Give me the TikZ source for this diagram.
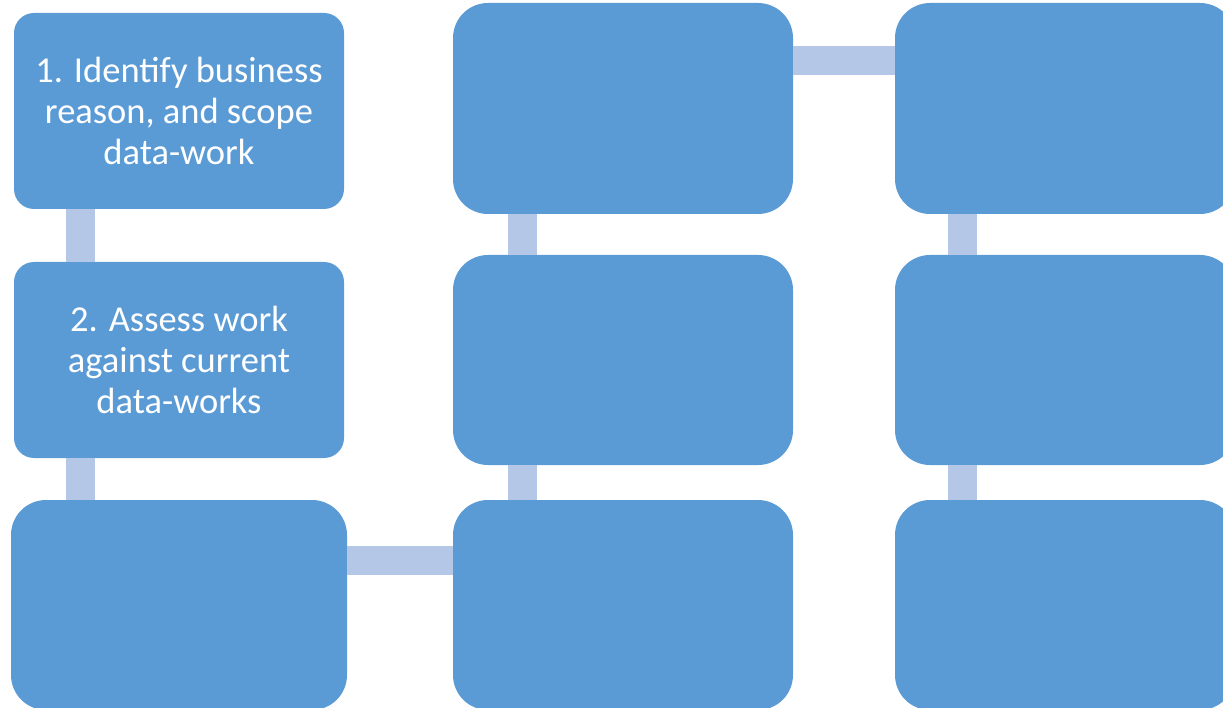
\documentclass[tikz,border=0pt]{standalone}
\usepackage{fontspec}
\setmainfont{Carlito}
\definecolor{boxblue}{HTML}{5B9BD5}
\definecolor{linkblue}{HTML}{B4C7E7}
\begin{document}
\begin{tikzpicture}[x=1pt,y=-1pt,
  stepbox/.style={fill=boxblue, draw=none, inner sep=0pt, text=white, align=center,
    font=\fontsize{36.5}{41}\selectfont},
  smallbox/.style={stepbox, minimum width=330pt, minimum height=196pt, rounded corners=20pt},
  bigbox/.style={stepbox, minimum width=340pt, minimum height=210pt, rounded corners=35pt},
  conn/.style={draw=linkblue, line width=29pt}]
\clip (0,0) rectangle (1223,708);
\path[use as bounding box] (0,0) rectangle (1223,708);
% column 1
\node[smallbox] (a1) at (179,111) {1. Identify business\\reason, and scope\\data-work};
\node[smallbox] (a2) at (179,360) {2. Assess work\\against current\\data-works};
\node[bigbox, minimum width=336pt] (a3) at (179,605) {};
% column 2
\node[bigbox, minimum height=211pt] (b1) at (623,108.5) {};
\node[bigbox] (b2) at (623,360) {};
\node[bigbox] (b3) at (623,605) {};
% column 3
\node[bigbox, minimum height=211pt] (c1) at (1065,108.5) {};
\node[bigbox] (c2) at (1065,360) {};
\node[bigbox] (c3) at (1065,605) {};
% connectors
\draw[conn] ([xshift=-98.5pt]a1.south) -- ([xshift=-98.5pt]a2.north);
\draw[conn] ([xshift=-98.5pt]a2.south) -- ([xshift=-98.5pt]a3.north);
\draw[conn] ([yshift=45pt]a3.east) -- ([yshift=45pt]b3.west);
\draw[conn] ([xshift=-101pt]b3.north) -- ([xshift=-101pt]b2.south);
\draw[conn] ([xshift=-101pt]b2.north) -- ([xshift=-101pt]b1.south);
\draw[conn] ([yshift=48pt]b1.east) -- ([yshift=48pt]c1.west);
\draw[conn] ([xshift=-102.5pt]c1.south) -- ([xshift=-102.5pt]c2.north);
\draw[conn] ([xshift=-102.5pt]c2.south) -- ([xshift=-102.5pt]c3.north);
\end{tikzpicture}
\end{document}
